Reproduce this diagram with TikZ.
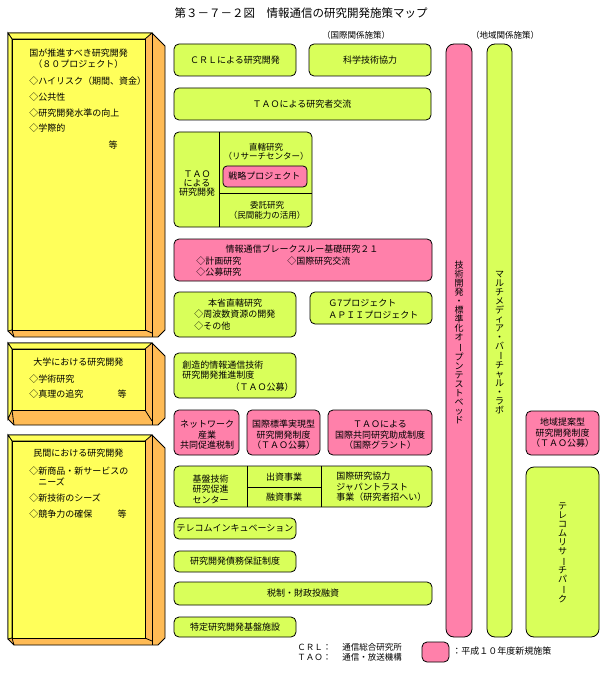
\documentclass[tikz,border=0pt]{standalone}
\usepackage{fontspec}
\setmainfont{Noto Sans CJK JP}
\usepackage{graphicx}
\definecolor{limeC}{RGB}{217,255,90}
\definecolor{pinkC}{RGB}{255,128,170}
\definecolor{yelC}{RGB}{255,255,90}
\definecolor{oraC}{RGB}{255,187,85}
\newcommand\vbar{\rotatebox[origin=c]{-90}{ー}}
\newcommand\bevblk[3]{%
  \filldraw[fill=oraC] (8,#1) -- (152,#1) -- (165,#1+13) -- (165,#3-7) -- (158,#3) -- (14,#3) -- (8,#3-6) -- cycle;
  \filldraw[fill=yelC] (8,#1) -- (152,#1) -- (145,#1+6) -- (12,#1+6) -- cycle;
  \filldraw[fill=yelC] (8,#1) -- (12,#1+6) -- (12,#2) -- (8,#3-6) -- cycle;
  \filldraw[fill=yelC] (12,#1+6) rectangle (145,#2);
  \draw (152,#1) -- (152,#3);
  \draw (145,#2) -- (152,#3-4);
  \draw (12,#2) -- (14,#3);
}
\begin{document}
\begin{tikzpicture}[x=1pt,y=-1pt,line width=0.8pt,
  every node/.style={font=\fontsize{9}{10.5}\selectfont, inner sep=0pt},
  lbox/.style={draw, fill=limeC, rounded corners=5pt},
  pbox/.style={draw, fill=pinkC, rounded corners=5pt},
  vtxt/.style={font=\fontsize{9}{9}\selectfont, align=center},
  small/.style={font=\fontsize{8.5}{9.5}\selectfont}]
\fill[white] (0,0) rectangle (610,676);
\useasboundingbox (0,0) rectangle (610,676);

% title and section labels
\node (title) at (301,13) {\fontsize{11.5}{12}\selectfont 第３－７－２図　情報通信の研究開発施策マップ};
\node[small] (kokusai) at (356,35) {（国際関係施策）};
\node[small] (chiiki) at (505,35) {（地域関係施策）};

% left bevel blocks
\bevblk{33}{330}{337}
\node[anchor=west] (k1) at (29,53) {国が推進すべき研究開発};
\node[anchor=west] (k2) at (33,64) {（８０プロジェクト）};
\node[anchor=west] (k3) at (29,81) {◇ハイリスク（期間、資金）};
\node[anchor=west] (k4) at (29,97) {◇公共性};
\node[anchor=west] (k5) at (29,113) {◇研究開発水準の向上};
\node[anchor=west] (k6) at (29,128) {◇学際的};
\node (k7) at (113,145) {等};

\bevblk{343}{410}{425}
\node[anchor=west] (d1) at (33,362) {大学における研究開発};
\node[anchor=west] (d2) at (29,379) {◇学術研究};
\node[anchor=west] (d3) at (29,394) {◇真理の追究};
\node (d4) at (122,394) {等};

\bevblk{435}{638}{645}
\node[anchor=west] (m1) at (33,453) {民間における研究開発};
\node[anchor=west] (m2) at (29,471) {◇新商品・新サービスの};
\node[anchor=west] (m3) at (38,482) {ニーズ};
\node[anchor=west] (m4) at (29,498) {◇新技術のシーズ};
\node[anchor=west] (m5) at (29,514) {◇競争力の確保};
\node (m6) at (122,514) {等};

% top boxes
\draw[lbox] (174,44) rectangle (296,76);
\node (crl) at (235,60) {ＣＲＬによる研究開発};
\draw[lbox] (309,44) rectangle (431,76);
\node (kagaku) at (370,60) {科学技術協力};
\draw[lbox] (174,88) rectangle (431,120);
\node (taokoryu) at (302,104) {ＴＡＯによる研究者交流};

% TAO research box
\draw[lbox] (174,132) rectangle (312,227);
\draw (219,132) -- (219,227);
\draw (219,193) -- (312,193);
\node[align=center, font=\fontsize{9}{9}\selectfont] (tao) at (197,184) {ＴＡＯ\\による\\研究開発};
\node[align=center, small] (chokkatsu) at (266,152) {直轄研究\\（リサーチセンター）};
\draw[pbox, rounded corners=4pt] (223,166) rectangle (307,187);
\node[anchor=west] (senryaku) at (228,176.5) {戦略プロジェクト};
\node[align=center, small] (itaku) at (267,210.5) {委託研究\\（民間能力の活用）};

% breakthrough
\draw[pbox] (174,239) rectangle (432,281);
\node (bt) at (302,249) {情報通信ブレークスルー基礎研究２１};
\node[anchor=west] (bt1) at (196,261) {◇計画研究};
\node[anchor=west] (bt2) at (287,261) {◇国際研究交流};
\node[anchor=west] (bt3) at (196,272) {◇公募研究};

% honsho / G7
\draw[lbox] (174,292) rectangle (296,337);
\node (honsho) at (235,303) {本省直轄研究};
\node[anchor=west] (hs1) at (194,314) {◇周波数資源の開発};
\node[anchor=west] (hs2) at (194,326) {◇その他};
\draw[lbox] (310,292) rectangle (432,324);
\node[anchor=west] (g7) at (328,303) {Ｇ7プロジェクト};
\node[anchor=west] (apii) at (328,315) {ＡＰＩＩプロジェクト};

% souzou
\draw[lbox] (174,353) rectangle (296,398);
\node[anchor=west] (sz1) at (182,365) {創造的情報通信技術};
\node[anchor=west] (sz2) at (182,375.5) {研究開発推進制度};
\node[anchor=east] (sz3) at (294,387) {（ＴＡＯ公募）};

% pink row
\draw[pbox] (174,410) rectangle (239,455);
\node[align=center] (net) at (207,435) {ネットワーク\\産業\\共同促進税制};
\draw[pbox] (247,410) rectangle (320,455);
\node[align=center] (hyojun) at (283.5,435) {国際標準実現型\\研究開発制度\\（ＴＡＯ公募）};
\draw[pbox] (328,410) rectangle (432,455);
\node[align=center] (grant) at (380,435) {ＴＡＯによる\\国際共同研究助成制度\\（国際グラント）};

% kiban
\draw[lbox] (174,466) rectangle (432,507);
\draw (247,466) -- (247,507);
\draw (321,466) -- (321,507);
\draw (247,487) -- (321,487);
\node[align=center] (kiban) at (210.5,489) {基盤技術\\研究促進\\センター};
\node (shusshi) at (284,477) {出資事業};
\node (yushi) at (284,497.5) {融資事業};
\node[align=left, anchor=west] (japan) at (336,487) {国際研究協力\\ジャパントラスト\\事業（研究者招へい）};

% lower boxes
\draw[lbox] (174,518) rectangle (296,539);
\node (incub) at (235,528.5) {テレコムインキュベーション};
\draw[lbox] (174,551) rectangle (296,572);
\node (saimu) at (235,561.5) {研究開発債務保証制度};
\draw[lbox] (174,582) rectangle (432,605);
\node (zeisei) at (303,593.5) {税制・財政投融資};
\draw[lbox] (174,617) rectangle (296,637);
\node (tokutei) at (235,627) {特定研究開発基盤施設};

% tall bars
\draw[pbox, rounded corners=8pt] (446,44) rectangle (472,637);
\node[vtxt] (testbed) at (459,342.5) {技\\術\\開\\発\\・\\標\\準\\化\\オ\\\vbar\\プ\\ン\\テ\\ス\\ト\\ベ\\ッ\\ド};
\draw[lbox, rounded corners=8pt] (487,44) rectangle (512,637);
\node[vtxt] (mvl) at (499.5,342.5) {マ\\ル\\チ\\メ\\デ\\ィ\\ア\\・\\バ\\\vbar\\チ\\ャ\\ル\\・\\ラ\\ボ};

% regional
\draw[pbox] (526,411) rectangle (599,455);
\node[align=center] (chiikiteian) at (562.5,433) {地域提案型\\研究開発制度\\（ＴＡＯ公募）};
\draw[lbox, rounded corners=8pt] (526,467) rectangle (599,637);
\node[vtxt] (park) at (562.5,553) {テ\\レ\\コ\\ム\\リ\\サ\\\vbar\\チ\\パ\\\vbar\\ク};

% footnote and legend
\node[anchor=west, small] (fcrl) at (297,647) {ＣＲＬ：};
\node[anchor=west, small] (fcrl2) at (342,647) {通信総合研究所};
\node[anchor=west, small] (ftao) at (297,657) {ＴＡＯ：};
\node[anchor=west, small] (ftao2) at (342,657) {通信・放送機構};
\draw[pbox] (422,642) rectangle (449,662);
\node[anchor=west] (legend) at (452,651) {：平成１０年度新規施策};
\end{tikzpicture}
\end{document}
